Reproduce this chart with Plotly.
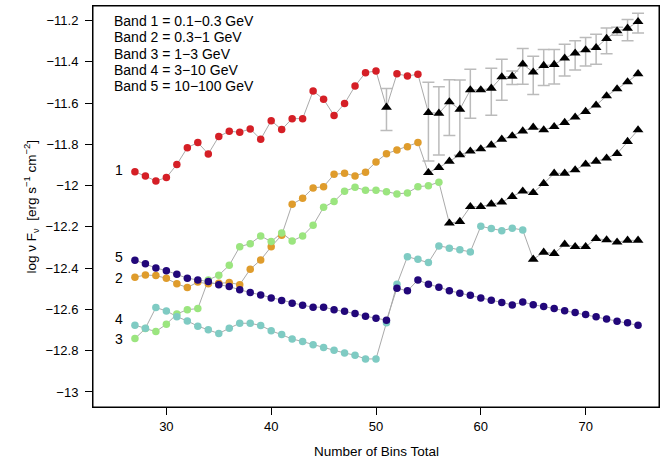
import plotly.graph_objects as go

bins = [27, 28, 29, 30, 31, 32, 33, 34, 35, 36, 37, 38, 39, 40, 41, 42, 43, 44, 45, 46, 47, 48, 49, 50,
        51, 52, 53, 54, 55, 56, 57, 58, 59, 60, 61, 62, 63, 64, 65, 66, 67, 68, 69, 70, 71, 72, 73, 74, 75]

band1 = [-11.932, -11.953, -11.977, -11.961, -11.897, -11.816, -11.791, -11.846, -11.762, -11.736, -11.741,
         -11.725, -11.775, -11.685, -11.728, -11.675, -11.675, -11.541, -11.581, -11.660, -11.602, -11.517,
         -11.452, -11.444, -11.620, -11.458, -11.468, -11.460, -11.646, -11.649, -11.594, -11.630, -11.536,
         -11.536, -11.528, -11.473, -11.470, -11.411, -11.450, -11.418, -11.413, -11.382, -11.358, -11.342,
         -11.331, -11.287, -11.250, -11.237, -11.205]
band2 = [-12.444, -12.433, -12.436, -12.449, -12.476, -12.494, -12.467, -12.476, -12.473, -12.470, -12.480,
         -12.405, -12.360, -12.296, -12.240, -12.090, -12.061, -12.011, -12.005, -11.945, -11.940, -11.953,
         -11.935, -11.885, -11.845, -11.827, -11.811, -11.791, -11.937, -11.912, -11.882, -11.851, -11.833,
         -11.822, -11.803, -11.775, -11.759, -11.735, -11.717, -11.730, -11.714, -11.694, -11.668, -11.641,
         -11.610, -11.565, -11.531, -11.497, -11.458]
band3 = [-12.741, -12.693, -12.707, -12.672, -12.622, -12.601, -12.596, -12.457, -12.434, -12.386, -12.296,
         -12.281, -12.244, -12.271, -12.229, -12.268, -12.244, -12.192, -12.105, -12.077, -12.027, -12.008,
         -12.022, -12.022, -12.029, -12.040, -12.035, -12.005, -12.000, -11.983, -12.182, -12.174, -12.102,
         -12.102, -12.089, -12.080, -12.053, -12.027, -12.034, -11.990, -11.940, -11.940, -11.924, -11.896,
         -11.882, -11.867, -11.845, -11.786, -11.730]
band4 = [-12.677, -12.691, -12.591, -12.607, -12.635, -12.656, -12.681, -12.698, -12.717, -12.691, -12.667,
         -12.667, -12.678, -12.703, -12.722, -12.743, -12.756, -12.771, -12.785, -12.798, -12.811, -12.822,
         -12.840, -12.840, -12.664, -12.478, -12.344, -12.357, -12.373, -12.292, -12.303, -12.311, -12.321,
         -12.197, -12.208, -12.218, -12.206, -12.215, -12.357, -12.323, -12.329, -12.284, -12.296, -12.296,
         -12.257, -12.263, -12.274, -12.265, -12.265]
band5 = [-12.361, -12.379, -12.399, -12.412, -12.429, -12.449, -12.457, -12.465, -12.480, -12.489, -12.505,
         -12.518, -12.530, -12.544, -12.557, -12.570, -12.580, -12.589, -12.589, -12.601, -12.609, -12.620,
         -12.633, -12.643, -12.652, -12.497, -12.510, -12.457, -12.478, -12.492, -12.509, -12.521, -12.531,
         -12.544, -12.555, -12.567, -12.578, -12.564, -12.577, -12.586, -12.596, -12.606, -12.615, -12.625,
         -12.636, -12.646, -12.657, -12.665, -12.677]

# bins drawn as triangles for each band
tri_bins1 = [51, 55, 56, 57, 58, 59, 60, 61, 62, 63, 64, 65, 66, 67, 68, 69, 70, 71, 72, 73, 74, 75]
tri_bins2 = [55, 56, 57, 58, 59, 60, 61, 62, 63, 64, 65, 66, 67, 68, 69, 70, 71, 72, 73, 74, 75]
tri_bins3 = [57, 58, 59, 60, 61, 62, 63, 64, 65, 66, 67, 68, 69, 70, 71, 72, 73, 74, 75]
tri_bins4 = [65, 66, 67, 68, 69, 70, 71, 72, 73, 74, 75]
tri_bins5 = []

# asymmetric errors (dex) for band 1 triangles, aligned with tri_bins1
err1_up = [0.091, 0.147, 0.129, 0.108, 0.142, 0.100, None, 0.097, 0.086, 0.026, 0.076, 0.078, 0.078,
           0.073, 0.068, 0.060, 0.060, 0.065, 0.051, 0.018, 0.042, 0.041]
err1_dn = [0.113, 0.234, 0.202, 0.163, 0.222, 0.137, None, 0.131, 0.113, 0.040, 0.097, 0.108, 0.097,
           0.094, 0.086, 0.081, 0.078, 0.080, 0.073, 0.021, 0.060, 0.055]

band_names = ["1", "2", "3", "4", "5"]
band_label_y = [-11.924, -12.448, -12.745, -12.646, -12.348]
legend_lines = ["Band 1 = 0.1\u22120.3 GeV", "Band 2 = 0.3\u22121 GeV", "Band 3 = 1\u22123 GeV",
                "Band 4 = 3\u221210 GeV", "Band 5 = 10\u2212100 GeV"]
ytick_vals = [-13.0, -12.8, -12.6, -12.4, -12.2, -12.0, -11.8, -11.6, -11.4, -11.2]
xtick_vals = [30, 40, 50, 60, 70]

colors = ["#D51F26", "#DF9C2C", "#9BE57F", "#7FCBC3", "#22077A"]
bands = [band1, band2, band3, band4, band5]
tris = [tri_bins1, tri_bins2, tri_bins3, tri_bins4, tri_bins5]

FONT = "Liberation Sans, Arial, Helvetica, sans-serif"
fig = go.Figure()

# connecting lines
for vals in bands:
    fig.add_trace(go.Scatter(x=bins, y=vals, mode="lines",
                             line=dict(color="#AAAAAA", width=1), hoverinfo="skip", showlegend=False))

# error bars of band 1 triangles
ex = [b for b in bins if b in tri_bins1]
ey = [v for b, v in zip(bins, band1) if b in tri_bins1]
fig.add_trace(go.Scatter(x=ex, y=ey, mode="markers",
                         marker=dict(size=1, color="rgba(0,0,0,0)"),
                         error_y=dict(type="data", symmetric=False, array=err1_up, arrayminus=err1_dn,
                                      color="#BBBBBB", thickness=1.5, width=6),
                         showlegend=False, hoverinfo="skip"))

# markers
for vals, tri, col in zip(bands, tris, colors):
    cx = [b for b in bins if b not in tri]
    cy = [v for b, v in zip(bins, vals) if b not in tri]
    fig.add_trace(go.Scatter(x=cx, y=cy, mode="markers",
                             marker=dict(symbol="circle", size=7.5, color=col, line=dict(width=0)),
                             showlegend=False))
    tx = [b for b in bins if b in tri]
    ty = [v for b, v in zip(bins, vals) if b in tri]
    if tx:
        fig.add_trace(go.Scatter(x=tx, y=ty, mode="markers",
                                 marker=dict(symbol="triangle-up", size=9.5, color="black", line=dict(width=0)),
                                 showlegend=False))

annotations = []
for name, yv in zip(band_names, band_label_y):
    annotations.append(dict(x=25.48, y=yv, xref="x", yref="y", text=name, showarrow=False,
                            font=dict(size=14, color="black", family=FONT), xanchor="center", yanchor="middle"))

for i, line in enumerate(legend_lines):
    annotations.append(dict(x=0, y=1, xref="paper", yref="paper", text=line, showarrow=False,
                            xanchor="left", yanchor="middle", xshift=19, yshift=-(14.7 + 16.4 * i),
                            font=dict(size=14, color="black", family=FONT)))

annotations.append(dict(x=0, y=0.5, xref="paper", yref="paper",
                        text="log \u03bd F<sub>\u03bd</sub>  [erg s<sup>\u22121</sup> cm<sup>\u22122</sup>]",
                        textangle=-90, showarrow=False, xanchor="center", yanchor="middle", xshift=-62,
                        font=dict(size=13.5, color="black", family=FONT)))
annotations.append(dict(x=0.5, y=0, xref="paper", yref="paper", text="Number of Bins Total",
                        showarrow=False, xanchor="center", yanchor="middle", yshift=-44,
                        font=dict(size=13.5, color="black", family=FONT)))

fig.update_layout(
    width=671, height=460,
    margin=dict(l=93, r=12, t=6, b=53),
    paper_bgcolor="white", plot_bgcolor="white",
    font=dict(family=FONT, color="black", size=13),
    annotations=annotations,
    shapes=[dict(type="rect", xref="paper", yref="paper", x0=0, y0=0, x1=1, y1=1,
                 line=dict(color="black", width=1), layer="above")],
    xaxis=dict(range=[23, 77], tickvals=xtick_vals, ticktext=[str(v) for v in xtick_vals],
               ticks="outside", ticklen=7, tickwidth=1, tickcolor="black",
               showline=True, linecolor="black", linewidth=1, mirror=True,
               showgrid=False, zeroline=False, tickfont=dict(size=13)),
    yaxis=dict(range=[-13.073, -11.129], tickvals=ytick_vals,
               ticktext=[("%g" % v).replace("-", "\u2212") for v in ytick_vals],
               ticks="outside", ticklen=7, tickwidth=1, tickcolor="black",
               showline=True, linecolor="black", linewidth=1, mirror=True,
               showgrid=False, zeroline=False, tickfont=dict(size=13), ticklabelstandoff=4),
)

fig.write_html("out.html", config={"displayModeBar": False},
               post_script="document.body.style.margin='0px';document.body.style.padding='0px';")
